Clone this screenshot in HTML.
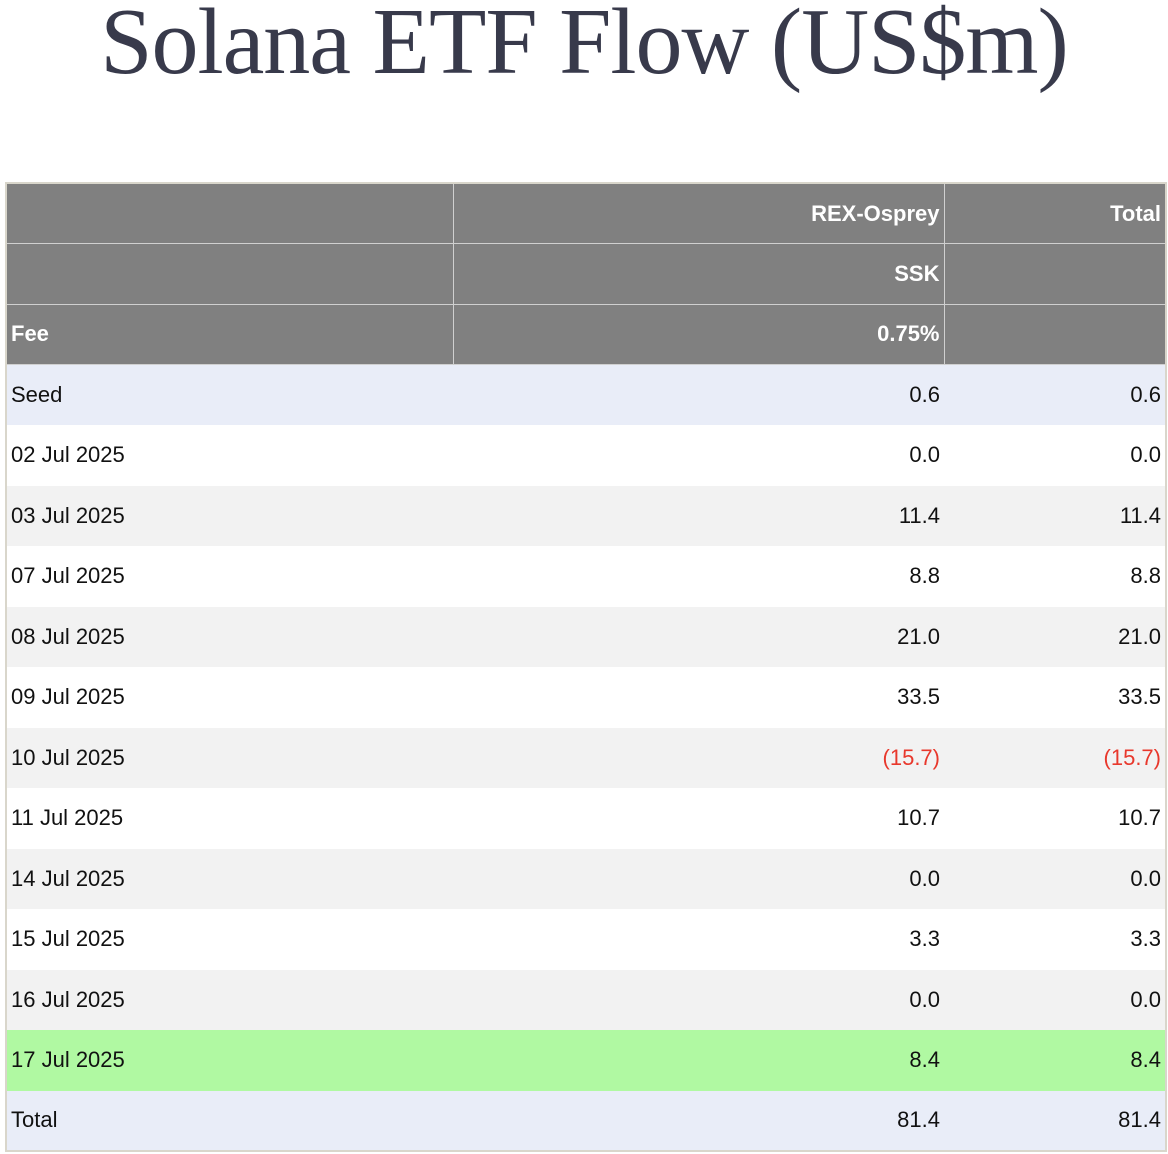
<!DOCTYPE html>
<html><head><meta charset="utf-8"><style>
body{margin:0;background:#fff;width:1168px;height:1154px;overflow:hidden;font-family:"Liberation Sans",sans-serif;}
h1{position:absolute;left:0;top:-12px;width:1168px;margin:0;text-align:center;font-family:"Liberation Serif",serif;font-weight:normal;font-size:94px;color:#383a4b;letter-spacing:-1px;}
table{position:absolute;left:5px;top:182px;width:1160px;border-collapse:collapse;border:2px solid #d9d6cb;table-layout:fixed;}
td{height:60.5px;padding:0 4px;font-size:22px;color:#111;white-space:nowrap;box-sizing:border-box;}
tr.h td{background:#808080;color:#fff;font-weight:bold;border:1px solid #d0d0d0;text-align:right;vertical-align:middle;}
tr.h td:first-child{text-align:left;}
td.n{text-align:right;}
tr.a td{background:#f2f2f2;}
tr.b td{background:#fff;}
tr.s td{background:#e9edf8;}
tr.g td{background:#b0f9a2;}
.neg{color:#e8382c;}
</style></head><body>
<h1>Solana ETF Flow (US$m)</h1>
<table>
<colgroup><col style="width:447px"><col style="width:491px"><col style="width:222px"></colgroup>
<tr class="h"><td></td><td>REX-Osprey</td><td>Total</td></tr>
<tr class="h"><td></td><td>SSK</td><td></td></tr>
<tr class="h"><td>Fee</td><td>0.75%</td><td></td></tr>
<tr class="s"><td>Seed</td><td class="n">0.6</td><td class="n">0.6</td></tr>
<tr class="b"><td>02 Jul 2025</td><td class="n">0.0</td><td class="n">0.0</td></tr>
<tr class="a"><td>03 Jul 2025</td><td class="n">11.4</td><td class="n">11.4</td></tr>
<tr class="b"><td>07 Jul 2025</td><td class="n">8.8</td><td class="n">8.8</td></tr>
<tr class="a"><td>08 Jul 2025</td><td class="n">21.0</td><td class="n">21.0</td></tr>
<tr class="b"><td>09 Jul 2025</td><td class="n">33.5</td><td class="n">33.5</td></tr>
<tr class="a"><td>10 Jul 2025</td><td class="n neg">(15.7)</td><td class="n neg">(15.7)</td></tr>
<tr class="b"><td>11 Jul 2025</td><td class="n">10.7</td><td class="n">10.7</td></tr>
<tr class="a"><td>14 Jul 2025</td><td class="n">0.0</td><td class="n">0.0</td></tr>
<tr class="b"><td>15 Jul 2025</td><td class="n">3.3</td><td class="n">3.3</td></tr>
<tr class="a"><td>16 Jul 2025</td><td class="n">0.0</td><td class="n">0.0</td></tr>
<tr class="g"><td>17 Jul 2025</td><td class="n">8.4</td><td class="n">8.4</td></tr>
<tr class="s"><td>Total</td><td class="n">81.4</td><td class="n">81.4</td></tr>
</table>
</body></html>
